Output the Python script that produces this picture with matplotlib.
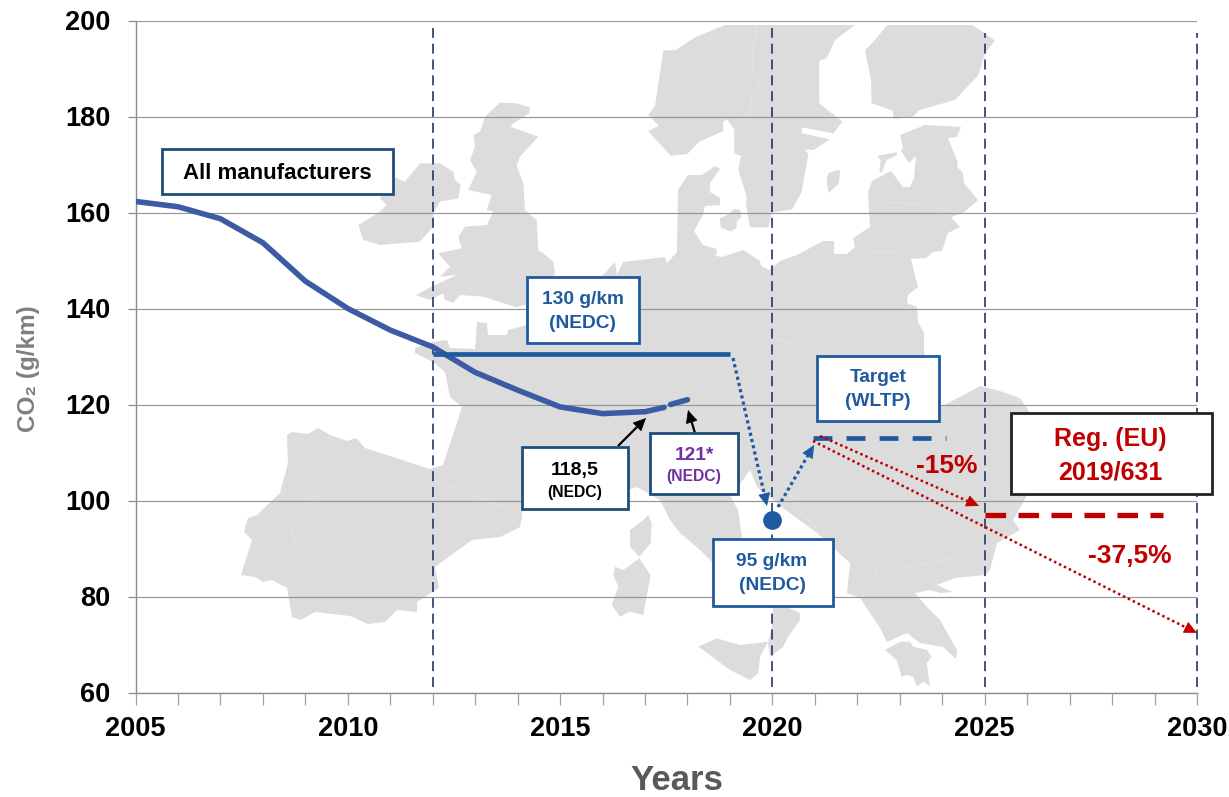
import matplotlib
matplotlib.use('Agg')
import matplotlib.pyplot as plt
from matplotlib.patches import Polygon, Rectangle

plt.rcParams['font.family'] = ['Liberation Sans', 'DejaVu Sans']
plt.rcParams['font.weight'] = 'bold'

# data
YEARS = [2005, 2006, 2007, 2008, 2009, 2010, 2011, 2012, 2013, 2014, 2015, 2016, 2017, 2017.45]
CO2 = [162.3, 161.2, 158.7, 153.7, 145.7, 140, 135.5, 132, 126.7, 123, 119.5, 118.1, 118.5, 119.4]
YEARS_121 = [2017.6, 2018]
CO2_121 = [120, 121]
TARGET_130_X = [2012, 2019]
TARGET_130_Y = [130.5, 130.5]
TARGET_WLTP_X = [2020.95, 2024.1]
TARGET_WLTP_Y = [113.1, 113.1]
TARGET_REG_X = [2025, 2029.2]
TARGET_REG_Y = [97, 97]
POINT_95_X = [2020]
POINT_95_Y = [96]
MILESTONES = [2012, 2020, 2025, 2030]
Y_TICKS = [60, 80, 100, 120, 140, 160, 180, 200]
X_TICKS = [2005, 2010, 2015, 2020, 2025, 2030]

BLUE = '#3b5ba5'
DBLUE = '#1f5aa0'
NAVY = '#1f3864'
BOXNAVY = '#1f4e79'
RED = '#c00000'
PURPLE = '#7030a0'
GREY = '#dcdcdc'
W, H = 1229, 797
X0, X1, Y0, Y1 = 135.5, 1197, 20.5, 692.5


# picture pixels -> data coordinates (for backdrop and annotation boxes)
def px(x, y):
    return 2005 + (x - X0) / (X1 - X0) * 25, 200 - (y - Y0) / (Y1 - Y0) * 140


def zoomed(ox, oy, pts):
    return [(ox + a / 3, oy + b / 3) for a, b in pts]


# map backdrop, outlines traced in pixels
IRELAND = zoomed(340, 20, [(215, 460), (240, 430), (300, 430), (340, 455), (345, 480), (362, 495), (355, 535),
                           (300, 545), (280, 580), (280, 620), (240, 665), (120, 675), (70, 660), (55, 615),
                           (120, 575), (140, 555), (120, 535), (160, 470), (195, 485)])
BRITAIN = zoomed(340, 20, [(480, 248), (530, 250), (570, 262), (568, 280), (520, 310), (510, 320), (595, 350),
                           (540, 410), (530, 437), (550, 490), (555, 570), (590, 600), (595, 690), (610, 700),
                           (640, 725), (645, 760), (630, 790), (570, 850), (530, 862), (430, 830), (360, 825),
                           (340, 848), (315, 840), (310, 820), (270, 840), (228, 825), (285, 795), (350, 765),
                           (300, 770), (330, 740), (295, 700), (365, 685), (355, 650), (375, 620), (440, 615),
                           (460, 575), (440, 570), (455, 525), (385, 510), (410, 455), (390, 420), (405, 380),
                           (400, 345), (420, 335), (435, 290)])
SCANDINAVIA = zoomed(640, 20, [(255, 15), (645, 15), (585, 60), (560, 115), (538, 122), (538, 250), (607, 305),
                               (580, 340), (485, 322), (485, 340), (570, 358), (520, 390), (495, 388), (505, 402),
                               (485, 515), (457, 568), (395, 578), (385, 622), (330, 622), (318, 555), (320, 530),
                               (295, 450), (303, 408), (283, 400), (283, 330), (262, 298), (250, 305), (250, 333),
                               (178, 365), (142, 402), (92, 407), (24, 333), (57, 318), (25, 285), (45, 258),
                               (70, 92), (107, 90), (165, 52)])
FINLAND = zoomed(640, 20, [(742, 15), (998, 15), (1065, 62), (1035, 100), (1015, 165), (945, 240), (838, 270),
                           (820, 290), (762, 297), (758, 272), (695, 250), (693, 180), (675, 92), (700, 65)])
GOTLAND = zoomed(640, 20, [(565, 460), (590, 450), (600, 452), (597, 490), (565, 520), (560, 480)])
ZEALAND = zoomed(640, 20, [(240, 595), (270, 580), (282, 567), (300, 570), (305, 590), (290, 605), (290, 625),
                           (272, 635), (242, 622)])
SAAREMAA = zoomed(640, 20, [(712, 407), (770, 397), (772, 405), (740, 420), (725, 458), (718, 455), (722, 420)])
SICILY = zoomed(660, 380, [(115, 800), (170, 775), (240, 795), (325, 785), (300, 830), (295, 880), (270, 900), (210, 870)])
PELOPONNESE = zoomed(660, 380, [(675, 810), (720, 785), (750, 785), (760, 800), (800, 810), (815, 830), (800, 850),
                                (810, 920), (790, 905), (770, 920), (760, 890), (740, 885), (725, 890), (710, 840)])
CORSICA = zoomed(230, 340, [(1200, 570), (1240, 540), (1255, 525), (1265, 550), (1262, 610), (1228, 650), (1200, 620)])
SARDINIA = zoomed(230, 340, [(1155, 680), (1180, 690), (1228, 655), (1262, 705), (1250, 770), (1240, 825), (1200, 815),
                             (1170, 830), (1145, 795), (1165, 740), (1150, 705)])
CONTINENT = [(603, 275), (615, 262), (617, 275), (623, 262), (665, 257), (667, 263), (677, 252), (678, 190), (688, 175),
             (702, 175), (715, 166), (720, 169), (710, 183), (710, 192), (720, 198), (720, 205), (705, 206), (703, 215),
             (694, 231), (703, 245), (717, 249), (716, 256), (722, 257), (743, 250), (760, 261), (761, 266), (769, 270),
             (780, 261), (797, 255), (823, 241), (834, 241), (834, 254), (847, 254), (855, 247), (853, 238), (870, 227),
             (868, 192), (872, 181), (891, 171), (903, 187), (910, 187), (914, 178), (916, 156), (909, 163), (901, 151),
             (903, 147), (900, 135), (925, 125), (961, 127), (957, 137), (948, 138), (958, 163), (957, 167), (963, 173),
             (964, 183), (978, 200), (963, 213), (951, 217), (960, 227), (948, 233), (942, 251), (933, 252), (926, 258),
             (911, 259), (918, 287), (908, 295), (907, 303), (917, 307), (918, 322), (924, 333), (924, 348), (930, 400),
             (940, 407), (960, 397), (980, 386), (1000, 391), (1020, 398), (1030, 413), (1035, 450), (1030, 490),
             (1013, 520), (1020, 530), (997, 543), (990, 570), (985, 575), (955, 578), (937, 585), (953, 592), (940, 593),
             (930, 590), (915, 593), (927, 607), (940, 620), (957, 650), (956, 659), (943, 647), (920, 643), (907, 633),
             (887, 642), (880, 628), (860, 598), (847, 593), (850, 563), (817, 533), (783, 508), (757, 487), (750, 470),
             (736, 490), (730, 495), (738, 510), (742, 537), (760, 565), (787, 607), (800, 613), (800, 620), (788, 637),
             (783, 647), (770, 657), (768, 643), (772, 627), (773, 607), (713, 563), (700, 550), (680, 533), (670, 520),
             (660, 500), (637, 487), (628, 490), (522, 510), (522, 517), (520, 527), (500, 537), (472, 540), (435, 567),
             (439, 588), (417, 602), (417, 612), (397, 610), (385, 622), (368, 624), (350, 616), (315, 612), (301, 620),
             (292, 617), (287, 588), (272, 580), (263, 582), (255, 577), (241, 575), (252, 540), (244, 532), (248, 518),
             (257, 515), (280, 493), (288, 463), (287, 435), (292, 432), (308, 434), (318, 428), (330, 435), (347, 441),
             (356, 438), (365, 448), (430, 469), (443, 465), (462, 407), (450, 397), (445, 372), (433, 362), (415, 353),
             (415, 348), (432, 342), (447, 340), (450, 348), (475, 349), (477, 322), (487, 323), (488, 335), (507, 335),
             (508, 330), (527, 325), (580, 290)]
MAP_SHAPES = [IRELAND, BRITAIN, SCANDINAVIA, FINLAND, GOTLAND, ZEALAND, SAAREMAA, SICILY, PELOPONNESE, CORSICA,
              SARDINIA, CONTINENT]
BORDERS = [zoomed(230, 340, [(300, 440), (245, 475), (210, 550), (180, 555), (195, 600), (165, 640), (165, 660), (130, 690)]),
           zoomed(230, 340, [(610, 420), (730, 465), (870, 520)]),
           zoomed(640, 20, [(350, 15), (338, 100), (338, 160), (362, 195), (335, 220), (330, 270), (285, 330)]),
           zoomed(640, 20, [(690, 565), (730, 545), (830, 552), (855, 545), (880, 562), (970, 580)]),
           zoomed(640, 20, [(645, 682), (720, 697), (790, 695), (790, 670)]),
           zoomed(640, 20, [(245, 980), (360, 945), (455, 970)]),
           zoomed(340, 20, [(235, 475), (280, 450), (330, 455)]),
           zoomed(660, 380, [(360, 280), (410, 380), (470, 450)]),
           zoomed(660, 380, [(640, 550), (650, 590), (720, 565), (900, 530)])]

fig = plt.figure(figsize=(W / 100, H / 100), dpi=100)
ax = fig.add_axes([X0 / W, 1 - Y1 / H, (X1 - X0) / W, (Y1 - Y0) / H])
ax.set_xlim(2005, 2030)
ax.set_ylim(60, 200)

for s in MAP_SHAPES:
    ax.add_patch(Polygon([px(a, b) for a, b in s], closed=True, fc=GREY, ec='none', zorder=0.5))
for b in BORDERS:
    pts = [px(p, q) for p, q in b]
    ax.plot([p[0] for p in pts], [p[1] for p in pts], color='#e5e5e5', lw=0.6, zorder=0.6)

# axes and grid
for side in ['top', 'right']:
    ax.spines[side].set_visible(False)
for side in ['left', 'bottom']:
    ax.spines[side].set_color('#8c8c8c')
    ax.spines[side].set_linewidth(1.0)
ax.set_yticks(Y_TICKS)
ax.set_xticks(X_TICKS)
ax.set_xticks(range(2005, 2031), minor=True)
ax.grid(axis='y', color='#969696', lw=0.85, zorder=1)
ax.set_axisbelow(False)
ax.tick_params(axis='y', length=6, width=0.9, color='#8c8c8c', labelsize=19.5, pad=12)
ax.tick_params(axis='x', which='major', length=8.6, width=0.9, color='#a0a0a0', labelsize=19.5, pad=8)
ax.tick_params(axis='x', which='minor', length=8.6, width=0.9, color='#a0a0a0')
fig.text(677 / W, 1 - 781 / H, 'Years', ha='center', va='center', fontsize=25, color='#595959')
fig.text(28 / W, 1 - 369 / H, 'CO\u2082 (g/km)', rotation=90, ha='center', va='center', fontsize=17.5, color='#7f7f7f')

# milestones
for m in MILESTONES:
    ax.plot([m, m], [61.2, 198.5 if m < 2025 else 197.5], color=NAVY, lw=1.2, dashes=(6, 3.5), zorder=2, clip_on=False)

# series
ax.plot(YEARS, CO2, color=BLUE, lw=4, zorder=3, solid_capstyle='round', solid_joinstyle='round')
ax.plot(YEARS_121, CO2_121, color=BLUE, lw=4, zorder=3, solid_capstyle='round')
ax.plot(TARGET_130_X, TARGET_130_Y, color=DBLUE, lw=3.4, zorder=3, solid_capstyle='butt')
ax.plot(TARGET_WLTP_X, TARGET_WLTP_Y, color=DBLUE, lw=3.4, dashes=(4, 3.0), dash_capstyle='butt', zorder=3)
ax.plot(TARGET_REG_X, TARGET_REG_Y, color=RED, lw=3.8, dashes=(3.9, 2.35), dash_capstyle='butt', zorder=3)
ax.plot(POINT_95_X, POINT_95_Y, 'o', color=DBLUE, ms=13.5, mew=0, zorder=4)


def arrow(start, end, color, dash=None, lw=1.6, scale=14):
    # shaft and head apart, so a dotted shaft keeps a solid head
    a, b = px(*start), px(*end)
    t = 0.9 * scale / ((end[0] - start[0]) ** 2 + (end[1] - start[1]) ** 2) ** 0.5
    neck = px(end[0] - t * (end[0] - start[0]), end[1] - t * (end[1] - start[1]))
    line = ax.plot([a[0], neck[0]], [a[1], neck[1]], color=color, lw=lw, zorder=5, clip_on=False,
                   solid_capstyle='butt', dash_capstyle='butt')[0]
    if dash:
        line.set_dashes(dash)
    ax.annotate('', xy=b, xytext=neck, zorder=5, annotation_clip=False,
                arrowprops=dict(arrowstyle='-|>,head_length=0.6,head_width=0.28', color=color, lw=0.5,
                                mutation_scale=scale, shrinkA=0, shrinkB=0))


arrow((733, 358), (767, 506), DBLUE, (1, 1), 2.3)
arrow((778, 507), (814, 445), DBLUE, (1, 1), 2.3)
arrow((820, 436), (979, 506), RED, (1, 1.2), 1.8)
arrow((813, 441), (1197, 633), RED, (1, 1.2), 1.8)
arrow((618, 446), (646, 418), 'black')
arrow((695, 433), (688, 410), 'black')


def box(x0, y0, x1, y1, color, lw=2.0):
    a, b = px(x0, y1)
    c, d = px(x1, y0)
    ax.add_patch(Rectangle((a, b), c - a, d - b, fc='white', ec=color, lw=lw, zorder=6, clip_on=False))


def label(x, y, s, color, size):
    a, b = px(x, y)
    ax.text(a, b, s, color=color, fontsize=size, ha='center', va='center', zorder=7)


box(162, 149, 393, 194, BOXNAVY)
label(277, 173.5, 'All manufacturers', 'black', 16)
box(527, 277, 639, 343, DBLUE)
label(583, 299.5, '130 g/km', DBLUE, 13.8)
label(583, 324, '(NEDC)', DBLUE, 13.8)
box(522, 447, 628, 509, BOXNAVY)
label(575, 470, '118,5', 'black', 14)
label(575, 492, '(NEDC)', 'black', 11.3)
box(650, 433, 738, 494, BOXNAVY)
label(694, 455, '121*', PURPLE, 13.8)
label(694, 477, '(NEDC)', PURPLE, 11.3)
box(713, 539, 833, 606, DBLUE)
label(772, 561.5, '95 g/km', DBLUE, 13.8)
label(772, 586, '(NEDC)', DBLUE, 13.8)
box(817, 356, 939, 421, DBLUE)
label(878, 377.5, 'Target', DBLUE, 13.8)
label(878, 402, '(WLTP)', DBLUE, 13.8)
box(1011, 413, 1212, 494, '#222222')
label(1110, 439, 'Reg. (EU)', RED, 18)
label(1110, 472, '2019/631', RED, 18)
label(947, 466, '-15%', RED, 19)
label(1130, 556, '-37,5%', RED, 19)

fig.savefig('out.png', dpi=100)
